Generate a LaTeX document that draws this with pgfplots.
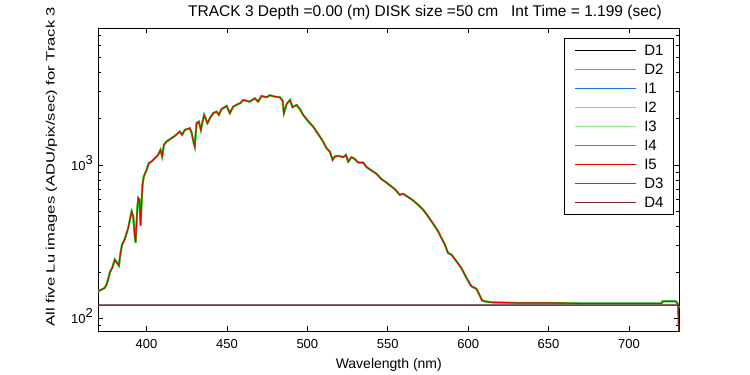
\documentclass[border=0pt]{standalone}
\usepackage{pgfplots}
\pgfplotsset{compat=1.18}
\usepackage{pgfplotstable}
\usepackage{fontspec}
\setmainfont{Liberation Sans}
\usepackage{graphicx}

\definecolor{cD1}{rgb}{0,0,0}
\definecolor{cD2}{rgb}{0.58,0.58,0.58}
\definecolor{cI1}{rgb}{0.12,0.45,0.85}
\definecolor{cI2}{rgb}{0,1,1}
\definecolor{cI3}{rgb}{0.56,0.93,0.56}
\definecolor{cI4}{rgb}{0,0.78,0}
\definecolor{cI5}{rgb}{0.93,0,0}
\definecolor{cD3}{rgb}{0.48,0.30,0.34}
\definecolor{cD4}{rgb}{0.50,0.16,0.16}

\pgfplotstableread{
wl val
370.0 150
370.7 153
372.5 156
374.0 159
375.2 168
376.1 180
377.2 201
378.6 214
380.3 243
381.3 234
382.8 222
383.8 268
384.8 304
386.5 331
388.6 390
390.7 500
391.7 464
392.7 344
393.2 314
394.2 513
394.8 611
395.6 595
396.3 404
396.9 566
397.5 745
398.3 844
400.0 931
401.4 1030
403.1 1055
405.2 1110
407.2 1166
408.7 1257
409.7 1138
410.8 1355
412.4 1423
415.5 1497
417.6 1550
420.7 1652
422.1 1573
423.8 1695
426.9 1738
428.0 1629
429.4 1390
430.0 1321
431.1 1875
432.5 1920
433.8 1695
434.6 1875
435.8 2123
437.9 1875
439.4 2018
441.4 2176
443.5 2229
445.0 2123
446.6 2312
449.8 2427
451.8 2176
453.9 2404
457.0 2500
458.5 2540
460.1 2654
461.6 2630
464.2 2590
467.3 2723
469.4 2590
471.5 2818
474.6 2765
476.7 2850
479.8 2788
482.9 2765
484.6 2630
485.4 2176
487.1 2500
489.2 2654
490.8 2382
493.3 2463
495.4 2312
497.4 2123
499.5 1990
501.6 1875
503.6 1782
505.7 1652
507.8 1534
509.8 1423
511.9 1289
514.0 1225
515.7 1082
517.1 1138
519.2 1149
522.3 1127
524.0 1166
525.4 1055
527.5 1127
529.6 1094
531.6 1040
534.7 1040
536.8 971
539.9 923
543.0 878
546.1 811
549.2 770
551.3 740
554.4 698
557.5 641
559.6 651
562.7 620
565.8 589
568.9 552
572.0 513
575.1 464
578.2 416
581.3 371
583.4 336
585.5 304
587.5 268
589.6 262
592.7 237
595.8 214
598.9 185
602.0 163
605.1 157
607.2 142
608.6 132
610.3 130
615.0 128
630.0 127
650.0 127
670.0 126
690.0 126
705.0 126
720.0 126
721.0 130
729.0 130
730.0 127
731.0 118
}\spec

\pgfplotstableread{
wl val
370.0 123
450.0 123
550.0 123
650.0 123
730.5 123
731.2 60
}\dark

\begin{document}
\begin{tikzpicture}
\path[use as bounding box] (0,0) rectangle (750pt,375pt);
\begin{axis}[
  at={(98.3pt,43.7pt)}, anchor=south west,
  scale only axis, width=581pt, height=303pt,
  xmin=370, xmax=731.3,
  ymode=log, log basis y=10, ymin=83, ymax=7770,
  xtick={400,450,...,700},
  ytick={100,1000},
  yticklabels={{10\raisebox{6pt}{2}},{10\raisebox{6pt}{3}}},
  minor ytick={90,200,300,400,500,600,700,800,900,2000,3000,4000,5000,6000,7000},
  tick align=inside,
  xtick pos=both, ytick pos=both,
  major tick length=5pt, minor tick length=3pt,
  tick style={black, line width=0.8pt},
  axis line style={line width=0.9pt},
  /pgf/number format/assume math mode=true,
  xticklabel style={font=\fontsize{13}{13}\selectfont, yshift=-5pt},
  yticklabel style={font=\fontsize{13}{13}\selectfont, anchor=base east, yshift=-5pt, xshift=-2pt},
  xlabel={Wavelength (nm)},
  xlabel style={font=\fontsize{14}{14}\selectfont, yshift=-2pt},
  legend style={at={(0.802,0.967)}, anchor=north west, draw=black, line width=0.8pt, fill=white,
    font=\fontsize{15}{15}\selectfont, inner xsep=10pt, inner ysep=7pt, row sep=9pt,
    nodes={inner sep=0pt, text height=10pt, text depth=0pt}},
  legend cell align=left,
  legend image code/.code={\draw[#1, line width=1pt] (0pt,0pt) -- (61pt,0pt); \path (68pt,0pt);},
]
\addplot[cD1, line width=1pt] table[x=wl,y=val] {\dark};
\addlegendentry{D1}
\addplot[cD2, line width=1pt] table[x=wl,y=val] {\dark};
\addlegendentry{D2}
\addplot[cI1, line width=1.5pt] table[x=wl,y=val] {\spec};
\addlegendentry{I1}
\addplot[cI2, line width=1.5pt] table[x=wl,y=val] {\spec};
\addlegendentry{I2}
\addplot[cI3, line width=2.2pt] table[x=wl,y=val] {\spec};
\addlegendentry{I3}
\addplot[cI4, line width=1.8pt] table[x=wl,y=val] {\spec};
\addlegendentry{I4}
\addplot[cI5, line width=1.0pt] table[x=wl,y=val] {\spec};
\addlegendentry{I5}
\addplot[cD3, line width=1pt] table[x=wl,y=val] {\dark};
\addlegendentry{D3}
\addplot[cD4, line width=1pt] table[x=wl,y=val] {\dark};
\addlegendentry{D4}
\end{axis}
\node[anchor=base, font=\fontsize{15.5}{15.5}\selectfont] at (425pt,358.3pt) {TRACK 3 Depth =0.00 (m) DISK size =50 cm\ \ \ Int Time = 1.199 (sec)};
\node[rotate=90, anchor=base west, font=\fontsize{12}{12}\selectfont] at (54.5pt,45pt) {\scalebox{1.38}[1]{All five Lu images (ADU/pix/sec) for Track 3}};
\end{tikzpicture}
\end{document}
